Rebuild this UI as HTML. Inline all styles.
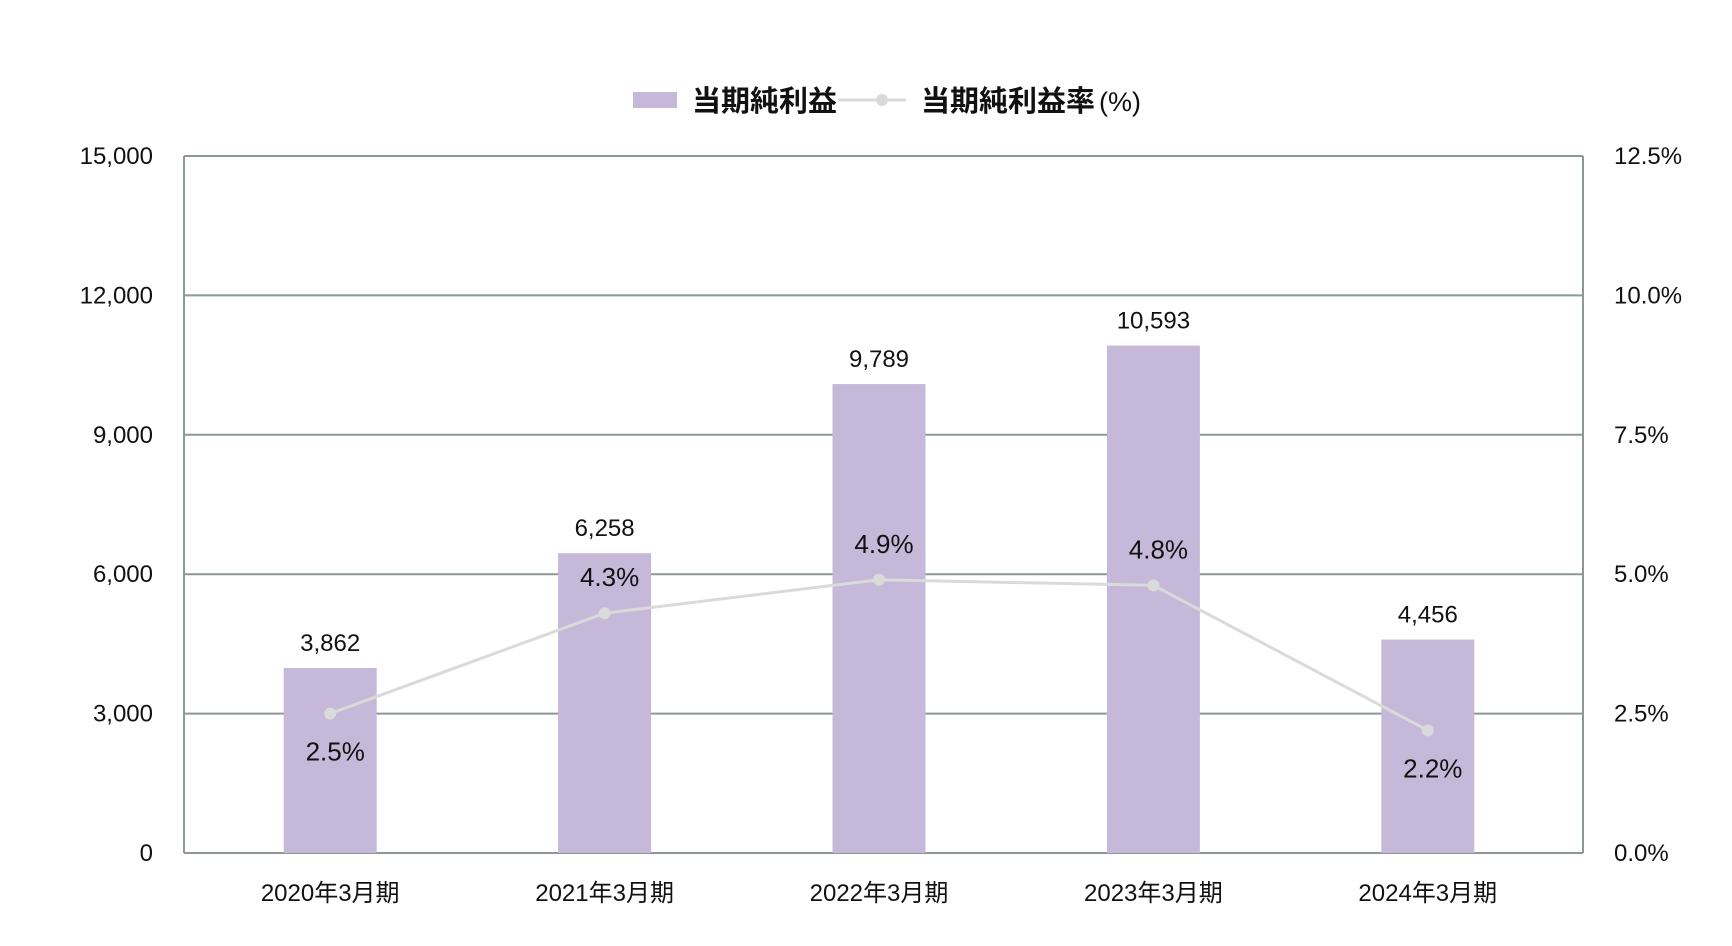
<!DOCTYPE html>
<html><head><meta charset="utf-8">
<style>
html,body{margin:0;padding:0;background:#fff;}
svg{display:block;}
text{font-family:"Liberation Sans","Noto Sans CJK JP",sans-serif;fill:#111;}
</style></head>
<body>
<svg id="chart" width="1732" height="946" viewBox="0 0 1732 946" xmlns="http://www.w3.org/2000/svg">
  <g>
    <rect x="633" y="92" width="44" height="16" fill="#c5b8d8"/>
    <text x="692" y="111" font-size="29" font-weight="bold">当期純利益</text>
    <line x1="838" y1="100" x2="906" y2="100" stroke="#dadada" stroke-width="3"/>
    <circle cx="882" cy="100" r="6" fill="#dadada"/>
    <text x="921" y="111" font-size="29" font-weight="bold">当期純利益率<tspan font-size="27" font-weight="normal" dx="4">(%)</tspan></text>
  </g>
  <g id="grid"></g>
  <g id="bars"></g>
  <g id="line"></g>
  <g id="labels"></g>
</svg>
<script>
const categories = ["2020年3月期","2021年3月期","2022年3月期","2023年3月期","2024年3月期"];
const netIncome = [3862, 6258, 9789, 10593, 4456];
const netIncomeLabels = ["3,862","6,258","9,789","10,593","4,456"];
const margin = [2.5, 4.3, 4.9, 4.8, 2.2];
const marginLabels = ["2.5%","4.3%","4.9%","4.8%","2.2%"];
const marginLabelSide = ["below","above","above","above","below"];
const leftTicks = [0, 3000, 6000, 9000, 12000, 15000];
const leftTickLabels = ["0","3,000","6,000","9,000","12,000","15,000"];
const rightTicks = [0, 2.5, 5, 7.5, 10, 12.5];
const rightTickLabels = ["0.0%","2.5%","5.0%","7.5%","10.0%","12.5%"];

const NS = "http://www.w3.org/2000/svg";
const plotL = 184, plotR = 1583, plotT = 156, plotB = 853;
const yL = v => plotB - v / 15000 * (plotB - plotT);
const yBar = v => plotB - v / 14550 * (plotB - plotT);
const yR = v => plotB - v / 12.5 * (plotB - plotT);
const innerL = 193, innerR = 1565;
const band = (innerR - innerL) / categories.length;
const xC = i => innerL + band * (i + 0.5);
const barW = 93;
function mk(tag, attrs, parent){const e=document.createElementNS(NS,tag);for(const k in attrs)e.setAttribute(k,attrs[k]);parent.appendChild(e);return e;}

const grid = document.getElementById("grid");
leftTicks.forEach((t,i)=>{
  const y = yL(t);
  const ln = mk("line",{x1:plotL,x2:plotR,y1:y,y2:y,stroke:"#8c9796","stroke-width":2},grid);
  
  
  const tx = mk("text",{x:153,y:y+8,"text-anchor":"end","font-size":24},grid);
  tx.textContent = leftTickLabels[i];
  
  
});
rightTicks.forEach((t,i)=>{
  const y = yR(t);
  const tx = mk("text",{x:1614,y:y+8,"font-size":24},grid);
  tx.textContent = rightTickLabels[i];
  
  
});
[plotL, plotR].forEach(x=>{
  const ln = mk("line",{x1:x,x2:x,y1:plotT,y2:plotB,stroke:"#8c9796","stroke-width":2},grid);
  
  
});

const bars = document.getElementById("bars");
const labels = document.getElementById("labels");
categories.forEach((c,i)=>{
  const y = yBar(netIncome[i]);
  const r = mk("rect",{x:xC(i)-barW/2,y:y,width:barW,height:plotB-y,fill:"#c5b8d8"},bars);
  
  
  const v = mk("text",{x:xC(i),y:y-17,"text-anchor":"middle","font-size":24},labels);
  v.textContent = netIncomeLabels[i];
  
  
  const cl = mk("text",{x:xC(i),y:901,"text-anchor":"middle","font-size":24},labels);
  cl.textContent = c;
  
  
});

const lineG = document.getElementById("line");
const pts = margin.map((m,i)=>xC(i)+","+yR(m)).join(" ");
const pl = mk("polyline",{points:pts,fill:"none",stroke:"#dadada","stroke-width":3},lineG);


margin.forEach((m,i)=>{
  const cy = yR(m);
  const p = mk("circle",{cx:xC(i),cy:cy,r:6,fill:"#dadada"},lineG);
  
  
  const ty = marginLabelSide[i]==="above" ? cy-27 : cy+47;
  const t = mk("text",{x:xC(i)+5,y:ty,"text-anchor":"middle","font-size":26},labels);
  t.textContent = marginLabels[i];
  
  
});
</script>
</body></html>
